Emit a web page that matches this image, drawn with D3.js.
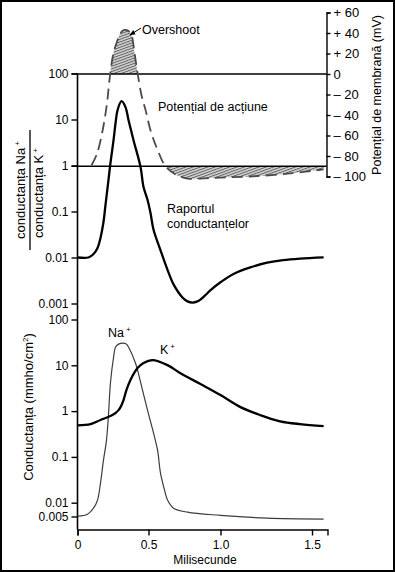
<!DOCTYPE html>
<html>
  <head>
    <meta charset="utf-8">
    <title>Potential de actiune</title>
    <script src="https://cdn.jsdelivr.net/npm/d3@7"></script>
    <style>
      body { margin: 0; background: #fff; }
      text { font-family: "Liberation Sans", Arial, sans-serif; fill: #000; }
      .axis text { font-size: 12px; }
      .axis line, .axis path { stroke: #000; stroke-width: 1.4; }
    </style>
  </head>
  <body>
    <svg id="chart" width="395" height="572"></svg>
    <script>
      // tick labels
      var timeTicks = [0, 0.5, 1.0, 1.5];
      var ratioTicks = [0.001, 0.01, 0.1, 1, 10, 100];
      var condTicks = [0.005, 0.01, 0.1, 1, 10, 100];
      var mvTicks = [-100, -80, -60, -40, -20, 0, 20, 40, 60];

      // potential de actiune (mV), dashed curve
      var apTime = [0.099, 0.134, 0.162, 0.190, 0.211, 0.225, 0.254, 0.282, 0.303, 0.331, 0.359, 0.380, 0.401, 0.423,
                    0.451, 0.479, 0.514, 0.563, 0.618, 0.688, 0.771, 0.861, 1.0, 1.163, 1.38, 1.56];
      var apMv   = [-89, -79, -65, -45, -25, -6, 21, 33, 40, 43, 42, 38, 21, 1,
                    -21, -35, -55, -74, -90, -98, -102, -102, -101, -100, -97, -93];

      // raportul conductantelor Na/K
      var ratioTime = [0, 0.077, 0.113, 0.141, 0.162, 0.183, 0.197, 0.218, 0.232, 0.254, 0.268, 0.282, 0.31, 0.338,
                       0.359, 0.394, 0.444, 0.465, 0.493, 0.514, 0.535, 0.583, 0.632, 0.674, 0.736, 0.771, 0.806,
                       0.84, 0.861, 0.896, 0.931, 1.0, 1.071, 1.163, 1.255, 1.342, 1.435, 1.56];
      var ratioVal  = [0.01, 0.01, 0.0119, 0.0161, 0.0266, 0.059, 0.138, 0.48, 1.13, 3.6, 8.4, 16, 25, 18.6,
                       9.8, 3.6, 0.93, 0.34, 0.18, 0.093, 0.04, 0.0145, 0.0054, 0.0026, 0.00135, 0.00111, 0.00105,
                       0.00111, 0.00122, 0.00153, 0.00196, 0.0029, 0.0044, 0.0061, 0.0077, 0.0088, 0.0095, 0.0101];

      // conductanta Na+ (mmho/cm2)
      var naTime = [0, 0.07, 0.113, 0.141, 0.162, 0.183, 0.204, 0.218, 0.232, 0.254, 0.268, 0.289, 0.317, 0.345,
                    0.359, 0.408, 0.444, 0.493, 0.535, 0.563, 0.583, 0.611, 0.632, 0.674, 0.771, 1.0, 1.255, 1.56];
      var naVal  = [0.0051, 0.0056, 0.0076, 0.0114, 0.027, 0.085, 0.23, 0.82, 4.1, 15, 25, 29, 30.6, 29,
                    25, 11.2, 4.3, 1.05, 0.33, 0.14, 0.045, 0.019, 0.0114, 0.0076, 0.0062, 0.0053, 0.0046, 0.0044];

      // conductanta K+ (mmho/cm2)
      var kTime = [0, 0.092, 0.162, 0.232, 0.268, 0.289, 0.303, 0.324, 0.345, 0.373, 0.423, 0.465, 0.528, 0.632,
                   0.722, 0.861, 1.0, 1.109, 1.217, 1.326, 1.435, 1.56];
      var kVal  = [0.49, 0.52, 0.64, 0.78, 0.91, 1.05, 1.22, 1.74, 2.9, 4.8, 8.7, 11.2, 13, 10.1,
                   6.7, 3.9, 2.24, 1.22, 0.82, 0.6, 0.52, 0.47];

      function pts(ts, vs) { return ts.map(function(t, i) { return {t: t, v: vs[i]}; }); }

      var svg = d3.select("#chart");
      var leftX = 77.5, rightX = 326.5, baseY = 529.5;

      // the original time axis is not evenly spaced
      var x = d3.scaleLinear().domain([0, 0.5, 1.0, 1.5, 1.58]).range([leftX, 148.5, 220.5, 312, 327.5]);
      var yRatio = d3.scaleLog().domain([0.001, 100]).range([303.5, 73.5]);
      var yMv = d3.scaleLinear().domain([-100, 60]).range([176.5, 12.5]);
      var yCond = d3.scaleLog().domain([0.0026, 100]).range([baseY, 319.5]);

      svg.append("rect").attr("x", 1).attr("y", 1).attr("width", 393).attr("height", 570)
        .attr("fill", "#fff").attr("stroke", "#000").attr("stroke-width", 2);

      var defs = svg.append("defs");
      var pat = defs.append("pattern").attr("id", "hatch").attr("width", 2.5).attr("height", 2.5)
        .attr("patternUnits", "userSpaceOnUse").attr("patternTransform", "rotate(70)");
      pat.append("rect").attr("width", 2.5).attr("height", 2.5).attr("fill", "#d4d4d4");
      pat.append("line").attr("x1", 0.5).attr("y1", 0).attr("x2", 0.5).attr("y2", 2.5)
        .attr("stroke", "#555").attr("stroke-width", 0.9);
      defs.append("clipPath").attr("id", "clipOver").append("rect")
        .attr("x", leftX).attr("y", 0).attr("width", rightX - leftX).attr("height", yMv(0));
      defs.append("clipPath").attr("id", "clipUnder").append("rect")
        .attr("x", leftX).attr("y", yMv(-90)).attr("width", rightX - leftX).attr("height", 30);

      var apData = pts(apTime, apMv);
      var curve = d3.curveCatmullRom.alpha(0.5);

      // hatched overshoot / undershoot
      svg.append("path").datum(apData).attr("clip-path", "url(#clipOver)").attr("fill", "url(#hatch)")
        .attr("d", d3.area().x(function(d) { return x(d.t); }).y0(yMv(0)).y1(function(d) { return yMv(d.v); }).curve(curve));
      svg.append("path").datum(apData).attr("clip-path", "url(#clipUnder)").attr("fill", "url(#hatch)")
        .attr("d", d3.area().x(function(d) { return x(d.t); }).y0(yMv(-90)).y1(function(d) { return yMv(d.v); }).curve(curve));

      // reference lines at 0 mV and -90 mV
      [0, -90].forEach(function(v) {
        svg.append("line").attr("x1", leftX - 6).attr("x2", rightX).attr("y1", yMv(v)).attr("y2", yMv(v))
          .attr("stroke", "#000").attr("stroke-width", 1.4);
      });

      // axes
      var fmt = function(d) { return String(d); };
      var gL1 = svg.append("g").attr("class", "axis").attr("transform", "translate(" + leftX + ",0)")
        .call(d3.axisLeft(yRatio).tickValues(ratioTicks).tickFormat(fmt).tickSize(6).tickPadding(3));
      gL1.select(".domain").remove();
      var gL2 = svg.append("g").attr("class", "axis").attr("transform", "translate(" + leftX + ",0)")
        .call(d3.axisLeft(yCond).tickValues(condTicks).tickFormat(fmt).tickSize(6).tickPadding(3));
      gL2.select(".domain").remove();
      svg.append("line").attr("x1", leftX).attr("x2", leftX).attr("y1", yRatio(100)).attr("y2", baseY)
        .attr("stroke", "#000").attr("stroke-width", 1.6);

      svg.append("g").attr("class", "axis").attr("transform", "translate(0," + baseY + ")")
        .call(d3.axisBottom(x).tickValues(timeTicks).tickSizeOuter(0).tickSize(6).tickPadding(5)
          .tickFormat(function(d) { return d === 0 ? "0" : d.toFixed(1); }));

      svg.append("g").attr("class", "axis").attr("transform", "translate(" + rightX + ",0)")
        .call(d3.axisRight(yMv).tickValues(mvTicks).tickSizeOuter(0).tickSize(4).tickPadding(3)
          .tickFormat(function(d) { return d > 0 ? "+ " + d : d < 0 ? "\u2013 " + (-d) : "0"; }))
        .selectAll("text").style("font-size", "13px");

      // curves
      svg.append("path").datum(apData).attr("fill", "none").attr("stroke", "#4a4a4a")
        .attr("stroke-width", 1.8).attr("stroke-dasharray", "11,6")
        .attr("d", d3.line().x(function(d) { return x(d.t); }).y(function(d) { return yMv(d.v); }).curve(curve));
      svg.append("path").datum(pts(ratioTime, ratioVal)).attr("fill", "none").attr("stroke", "#000")
        .attr("stroke-width", 2.3)
        .attr("d", d3.line().x(function(d) { return x(d.t); }).y(function(d) { return yRatio(d.v); }).curve(curve));
      svg.append("path").datum(pts(naTime, naVal)).attr("fill", "none").attr("stroke", "#3c3c3c")
        .attr("stroke-width", 1.2)
        .attr("d", d3.line().x(function(d) { return x(d.t); }).y(function(d) { return yCond(d.v); }).curve(curve));
      svg.append("path").datum(pts(kTime, kVal)).attr("fill", "none").attr("stroke", "#000")
        .attr("stroke-width", 2.3)
        .attr("d", d3.line().x(function(d) { return x(d.t); }).y(function(d) { return yCond(d.v); }).curve(curve));

      // labels
      function label(txt, lx, ly, size) {
        return svg.append("text").attr("x", lx).attr("y", ly).style("font-size", (size || 12) + "px").text(txt);
      }
      label("Overshoot", 142, 34, 12.5);
      defs.append("marker").attr("id", "arr").attr("viewBox", "0 0 10 10").attr("refX", 9).attr("refY", 5)
        .attr("markerWidth", 6).attr("markerHeight", 6).attr("orient", "auto")
        .append("path").attr("d", "M0,1 L10,5 L0,9 Z").attr("fill", "#000");
      svg.append("line").attr("x1", 141).attr("y1", 28).attr("x2", 130).attr("y2", 35)
        .attr("stroke", "#000").attr("stroke-width", 1).attr("marker-end", "url(#arr)");
      label("Potențial de acțiune", 158, 111, 12.5);
      label("Raportul", 167, 213, 12.5);
      label("conductanțelor", 167, 228, 12.5);

      var na = label("Na", 108, 337, 12.5);
      na.append("tspan").attr("dx", 2).attr("dy", -5).style("font-size", "8px").text("+");
      var k = label("K", 160, 354, 12.5);
      k.append("tspan").attr("dx", 2).attr("dy", -5).style("font-size", "8px").text("+");

      label("Milisecunde", 205, 564).attr("text-anchor", "middle");

      function vlabel(lx, ly) {
        return svg.append("text").attr("transform", "translate(" + lx + "," + ly + ") rotate(-90)")
          .attr("text-anchor", "middle").style("font-size", "13px");
      }
      var f1 = vlabel(25, 190);
      f1.append("tspan").text("conductanța  Na");
      f1.append("tspan").attr("dx", 2).attr("dy", -5).style("font-size", "8px").text("+");
      var f2 = vlabel(43, 193);
      f2.append("tspan").text("conductanța  K");
      f2.append("tspan").attr("dx", 2).attr("dy", -5).style("font-size", "8px").text("+");
      svg.append("line").attr("x1", 30).attr("x2", 30).attr("y1", 130).attr("y2", 250)
        .attr("stroke", "#000").attr("stroke-width", 1.3);

      var c = vlabel(33, 407);
      c.append("tspan").text("Conductanța  (mmho/cm");
      c.append("tspan").attr("dy", -5).style("font-size", "8px").text("2");
      c.append("tspan").attr("dy", 5).text(")");

      vlabel(381, 95).style("font-size", "12.5px").text("Potențial de membrană (mV)");
    </script>
  </body>
</html>
